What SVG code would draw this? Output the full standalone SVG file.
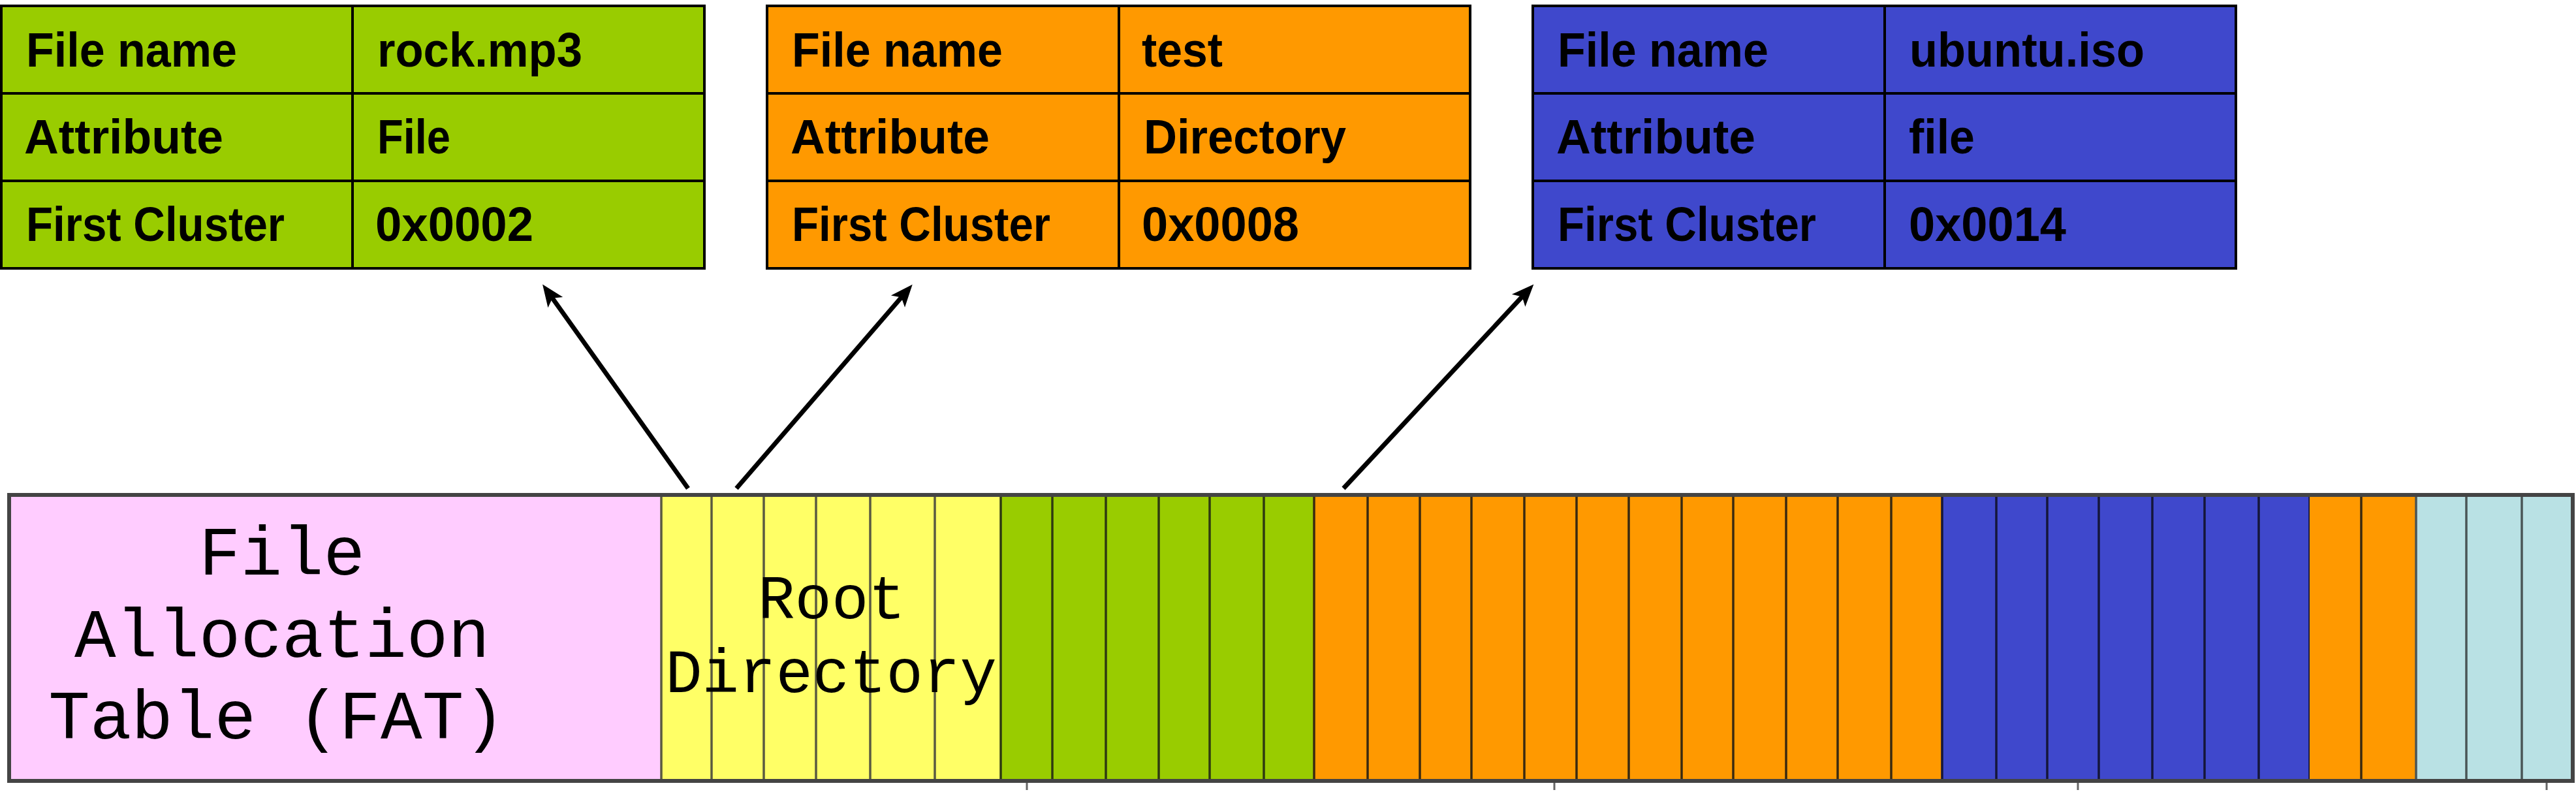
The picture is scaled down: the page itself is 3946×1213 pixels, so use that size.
<svg xmlns="http://www.w3.org/2000/svg" width="3946" height="1213" viewBox="0 0 3946 1213">
  <defs>
    <style>
      .cell { stroke: #000; stroke-width: 4; }
      .rowline { stroke: #000; stroke-width: 4; fill: none; }
      .tt { font-family: "Liberation Sans", Arial, sans-serif; font-weight: bold; font-size: 75px; fill: #000; }
      .mono { font-family: "Liberation Mono", "Courier New", monospace; font-weight: normal; fill: #000; text-anchor: middle; }
      .div { stroke-width: 3.5; fill: none; }
      .conn { stroke: #000; stroke-width: 7; fill: none; }
      .tick { stroke: #666; stroke-width: 3; }
    </style>
    <marker id="arrow" markerUnits="userSpaceOnUse" markerWidth="60" markerHeight="40" refX="0" refY="0" viewBox="-20 -20 60 40" orient="auto" overflow="visible">
      <path d="M24,0 L-10,-14 L-2,0 L-10,14 Z" fill="#000"/>
    </marker>
  </defs>
  <rect x="0" y="0" width="3946" height="1213" fill="#fff"/>

  <!-- Directory entry tables -->
  <g id="entry-rock">
    <rect x="2" y="9" width="1077" height="402" fill="#99CC00" class="cell"/>
    <path class="rowline" d="M2,143 H1079 M2,277 H1079 M540,9 V411"/>
    <text class="tt" x="40" y="102" textLength="323" lengthAdjust="spacingAndGlyphs">File name</text>
    <text class="tt" x="578" y="102" textLength="314" lengthAdjust="spacingAndGlyphs">rock.mp3</text>
    <text class="tt" x="37" y="235" textLength="305" lengthAdjust="spacingAndGlyphs">Attribute</text>
    <text class="tt" x="578" y="235" textLength="112" lengthAdjust="spacingAndGlyphs">File</text>
    <text class="tt" x="40" y="369" textLength="396" lengthAdjust="spacingAndGlyphs">First Cluster</text>
    <text class="tt" x="575" y="369" textLength="242" lengthAdjust="spacingAndGlyphs">0x0002</text>
  </g>

  <g id="entry-test">
    <rect x="1175" y="9" width="1077" height="402" fill="#FF9900" class="cell"/>
    <path class="rowline" d="M1175,143 H2252 M1175,277 H2252 M1714,9 V411"/>
    <text class="tt" x="1213" y="102" textLength="323" lengthAdjust="spacingAndGlyphs">File name</text>
    <text class="tt" x="1749" y="102" textLength="124" lengthAdjust="spacingAndGlyphs">test</text>
    <text class="tt" x="1211" y="235" textLength="305" lengthAdjust="spacingAndGlyphs">Attribute</text>
    <text class="tt" x="1752" y="235" textLength="310" lengthAdjust="spacingAndGlyphs">Directory</text>
    <text class="tt" x="1213" y="369" textLength="396" lengthAdjust="spacingAndGlyphs">First Cluster</text>
    <text class="tt" x="1749" y="369" textLength="241" lengthAdjust="spacingAndGlyphs">0x0008</text>
  </g>

  <g id="entry-ubuntu">
    <rect x="2348" y="9" width="1077" height="402" fill="#3F48CC" class="cell"/>
    <path class="rowline" d="M2348,143 H3425 M2348,277 H3425 M2887,9 V411"/>
    <text class="tt" x="2386" y="102" textLength="323" lengthAdjust="spacingAndGlyphs">File name</text>
    <text class="tt" x="2925" y="102" textLength="360" lengthAdjust="spacingAndGlyphs">ubuntu.iso</text>
    <text class="tt" x="2384" y="235" textLength="305" lengthAdjust="spacingAndGlyphs">Attribute</text>
    <text class="tt" x="2924" y="235" textLength="101" lengthAdjust="spacingAndGlyphs">file</text>
    <text class="tt" x="2386" y="369" textLength="396" lengthAdjust="spacingAndGlyphs">First Cluster</text>
    <text class="tt" x="2924" y="369" textLength="241" lengthAdjust="spacingAndGlyphs">0x0014</text>
  </g>

  <!-- Disk layout bar -->
  <g id="disk">
    <g id="fat">
      <rect x="14" y="758" width="999" height="438" fill="#FFCCFF"/>
      <text class="mono" x="432" y="880" font-size="106">File</text>
      <text class="mono" x="432" y="1006" font-size="106">Allocation</text>
      <text class="mono" x="424" y="1131" font-size="106">Table (FAT)</text>
    </g>
    <g id="root-directory">
      <rect x="1013" y="758" width="520" height="438" fill="#FFFF66"/>
      <path class="div" stroke="#5a5a40" d="M1013,758 V1196 M1090,758 V1196 M1170,758 V1196 M1250,758 V1196 M1333,758 V1196 M1432,758 V1196"/>
      <text class="mono" x="1274" y="947" font-size="94">Root</text>
      <text class="mono" x="1273" y="1060" font-size="94">Directory</text>
    </g>
    <g id="clusters-rock">
      <rect x="1533" y="758" width="480" height="438" fill="#99CC00"/>
      <path class="div" stroke="#2e3a10" d="M1533,758 V1196 M1612,758 V1196 M1694,758 V1196 M1775,758 V1196 M1853,758 V1196 M1936,758 V1196"/>
    </g>
    <g id="clusters-test-1">
      <rect x="2013" y="758" width="962" height="438" fill="#FF9900"/>
      <path class="div" stroke="#3a2a10" d="M2013,758 V1196 M2095,758 V1196 M2175,758 V1196 M2254,758 V1196 M2335,758 V1196 M2415,758 V1196 M2495,758 V1196 M2576,758 V1196 M2655,758 V1196 M2736,758 V1196 M2815,758 V1196 M2897,758 V1196"/>
    </g>
    <g id="clusters-ubuntu">
      <rect x="2975" y="758" width="563" height="438" fill="#3F48CC"/>
      <path class="div" stroke="#15163a" stroke-width="5" d="M2975,758 V1196 M3058,758 V1196 M3136,758 V1196 M3215,758 V1196 M3297,758 V1196 M3377,758 V1196 M3460,758 V1196 M3538,758 V1196"/>
    </g>
    <g id="clusters-test-2">
      <rect x="3538" y="758" width="163" height="438" fill="#FF9900"/>
      <path class="div" stroke="#3a2a10" d="M3617,758 V1196"/>
    </g>
    <g id="clusters-free">
      <rect x="3701" y="758" width="240" height="438" fill="#B9E1E4"/>
      <path class="div" stroke="#4a5556" stroke-width="4" d="M3701,758 V1196 M3778,758 V1196 M3863,758 V1196"/>
    </g>
    <rect x="14" y="758" width="3927" height="438" fill="none" stroke="#444" stroke-width="6"/>
    <path class="tick" d="M1573,1199 V1210 M2381,1199 V1210 M3183,1199 V1210 M3901,1199 V1210"/>
  </g>

  <!-- Connectors -->
  <g id="connectors">
    <line class="conn" x1="1054" y1="748" x2="845" y2="455" marker-end="url(#arrow)"/>
    <line class="conn" x1="1128" y1="748" x2="1382" y2="454" marker-end="url(#arrow)"/>
    <line class="conn" x1="2058" y1="748" x2="2333" y2="453" marker-end="url(#arrow)"/>
  </g>
</svg>
